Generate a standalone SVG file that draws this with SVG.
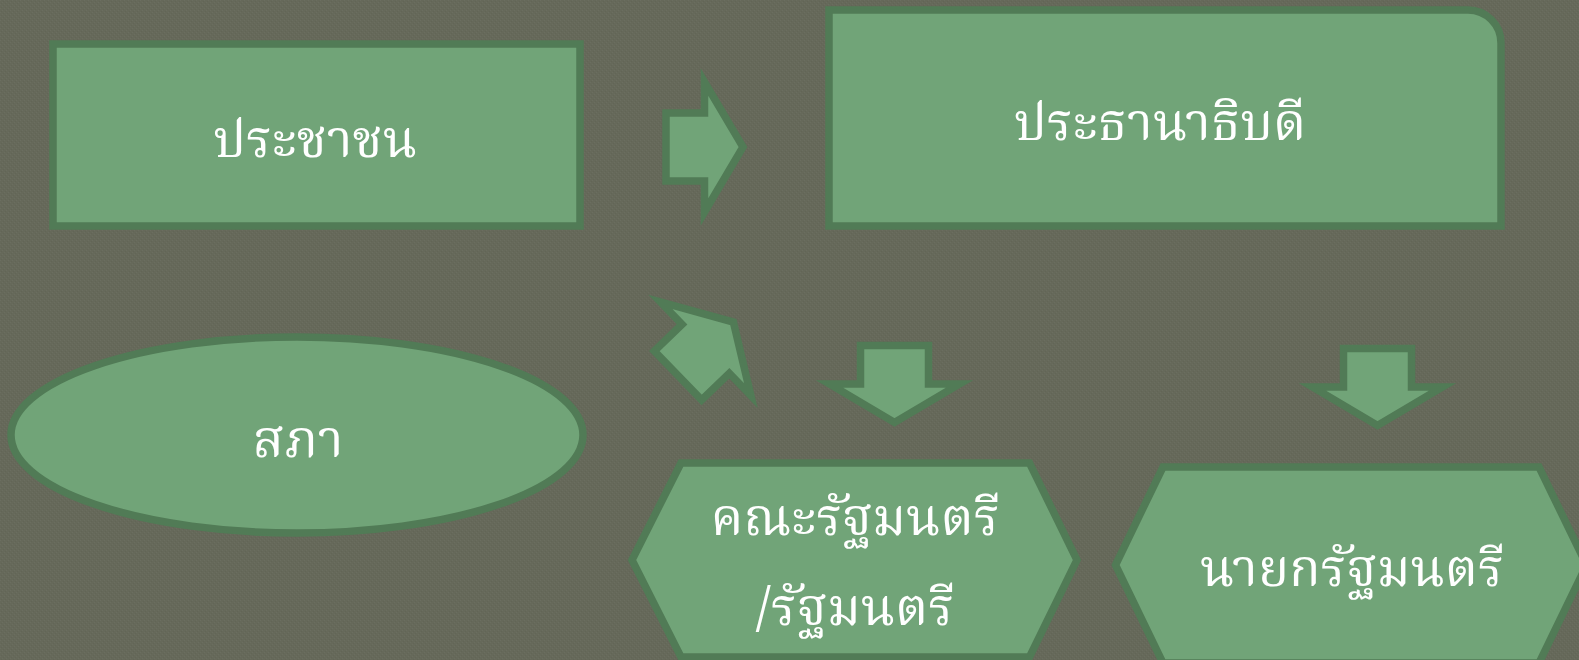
<svg xmlns="http://www.w3.org/2000/svg" xmlns:xlink="http://www.w3.org/1999/xlink" width="1579" height="660" viewBox="0 0 1579 660">
  <style>
    .shape { fill: #71a478; stroke: #517b56; stroke-width: 7.5; stroke-linejoin: miter; stroke-miterlimit: 6; }
    .lbl { fill: #ffffff; font-family: "Noto Serif Thai", "Noto Sans Thai", "Tlwg Typo", "Loma", "DejaVu Sans", "Noto Sans", sans-serif; font-size: 52px; text-anchor: middle; }
  </style>
  <defs>
    <pattern id="tex" width="4" height="4" patternUnits="userSpaceOnUse">
      <rect width="4" height="4" fill="#66695a"/>
      <rect x="0" y="0" width="1" height="1" fill="#6b6e60"/>
      <rect x="2" y="2" width="1" height="1" fill="#6b6e60"/>
      <rect x="1" y="3" width="1" height="1" fill="#626556"/>
      <rect x="3" y="1" width="1" height="1" fill="#626556"/>
    </pattern>
    <polygon id="blk" points="0,-34 38.5,-34 38.5,-65 77,0 38.5,65 38.5,34 0,34"/>
  </defs>
  <rect width="1579" height="660" fill="url(#tex)"/>

  <g id="connectors">
    <use xlink:href="#blk" href="#blk" class="shape" transform="translate(666,147)"/>
    <use xlink:href="#blk" href="#blk" class="shape" transform="translate(678,375.5) rotate(-44)"/>
    <use xlink:href="#blk" href="#blk" class="shape" transform="translate(894.5,345.5) rotate(90)"/>
    <use xlink:href="#blk" href="#blk" class="shape" transform="translate(1377.5,348.5) rotate(90)"/>
  </g>

  <g id="node-prachachon">
    <rect class="shape" x="53" y="44" width="527" height="182"/>
    <text class="lbl" x="315" y="157">ประชาชน</text>
  </g>

  <g id="node-president">
    <path class="shape" d="M829,10 H1468 A33,33 0 0 1 1501,43 V226 H829 Z"/>
    <text class="lbl" x="1160" y="140">ประธานาธิบดี</text>
  </g>

  <g id="node-sapha">
    <ellipse class="shape" cx="297" cy="435" rx="286" ry="98"/>
    <text class="lbl" x="298" y="457">สภา</text>
  </g>

  <g id="node-cabinet">
    <polygon class="shape" points="681,463 1029.5,463 1077,560 1029.5,657 681,657 632,560"/>
    <text class="lbl" x="855" y="535">คณะรัฐมนตรี</text>
    <text class="lbl" x="855" y="625">/รัฐมนตรี</text>
  </g>

  <g id="node-pm">
    <polygon class="shape" points="1163,467 1539,467 1586.5,565 1539,663 1163,663 1115.5,565"/>
    <text class="lbl" x="1352" y="586">นายกรัฐมนตรี</text>
  </g>
</svg>
